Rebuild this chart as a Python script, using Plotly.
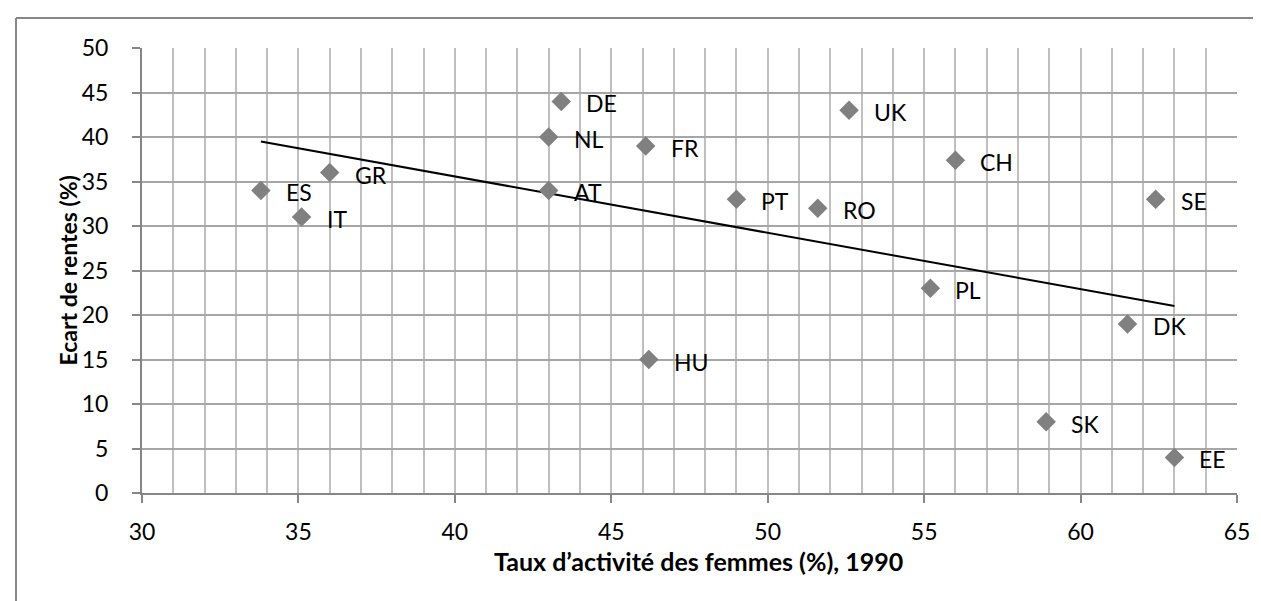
import numpy as np
import plotly.graph_objects as go

# ---- data ----
countries = ["ES", "IT", "GR", "DE", "NL", "AT", "FR", "HU", "PT", "RO",
             "UK", "PL", "CH", "SK", "DK", "SE", "EE"]
activity_rate_1990 = [33.8, 35.1, 36.0, 43.4, 43.0, 43.0, 46.1, 46.2, 49.0, 51.6,
                      52.6, 55.2, 56.0, 58.9, 61.5, 62.4, 63.0]
pension_gap = [34, 31, 36, 44, 40, 34, 39, 15, 33, 32,
               43, 23, 37.4, 8, 19, 33, 4]

x_title = "Taux d’activité des femmes (%), 1990"
y_title = "Ecart de rentes (%)"
x_ticks = [30, 35, 40, 45, 50, 55, 60, 65]
y_ticks = [0, 5, 10, 15, 20, 25, 30, 35, 40, 45, 50]

FONT = "Lato"
FS = 23

# linear trendline (least squares on the data)
slope, intercept = np.polyfit(activity_rate_1990, pension_gap, 1)
tx = [min(activity_rate_1990), max(activity_rate_1990)]
ty = [slope * v + intercept for v in tx]

fig = go.Figure()
fig.add_trace(go.Scatter(
    x=tx, y=ty, mode="lines",
    line=dict(color="black", width=2),
    hoverinfo="skip", showlegend=False,
))
fig.add_trace(go.Scatter(
    x=activity_rate_1990, y=pension_gap, mode="markers",
    marker=dict(symbol="diamond", size=15, color="#808080", line=dict(width=0)),
    showlegend=False,
))

for c, xv, yv in zip(countries, activity_rate_1990, pension_gap):
    fig.add_annotation(
        x=xv, y=yv, text=c, showarrow=False,
        xanchor="left", yanchor="middle", xshift=23, yshift=-2,
        font=dict(family=FONT, size=FS, color="#000000"),
    )

L, R, T, B = 134, 32, 40, 116
W, H = 1261, 601
pw, ph = W - L - R, H - T - B

def px_x(p):
    return (p - L) / pw

def px_y(p):
    return (H - B - p) / ph

# axis titles
fig.add_annotation(
    x=px_x(690), y=px_y(553), xref="paper", yref="paper", text=f"<b>{x_title}</b>",
    showarrow=False, xanchor="center", yanchor="middle",
    font=dict(family=FONT, size=25, color="#000000"),
)
fig.add_annotation(
    x=px_x(59), y=0.5, xref="paper", yref="paper", text=f"<b>{y_title}</b>",
    showarrow=False, xanchor="center", yanchor="middle", textangle=-90,
    font=dict(family=FONT, size=23, color="#000000"),
)

# outer chart border (top and left visible)
border = dict(color="#868686", width=2)
fig.add_shape(type="line", xref="paper", yref="paper",
              x0=px_x(8), y0=px_y(10), x1=px_x(W + 20), y1=px_y(10), line=border)
fig.add_shape(type="line", xref="paper", yref="paper",
              x0=px_x(8), y0=px_y(10), x1=px_x(8), y1=px_y(H + 20), line=border)

grid_v = "#bfbfbf"
grid_h = "#a6a6a6"
axis_c = "#868686"

fig.update_xaxes(
    range=[30, 65], tickmode="array", tickvals=x_ticks,
    ticktext=[str(v) for v in x_ticks],
    showgrid=True, gridcolor=grid_v, gridwidth=2,
    minor=dict(dtick=1, tick0=30, showgrid=True, gridcolor=grid_v, gridwidth=2),
    showline=True, linecolor=axis_c, linewidth=2,
    ticks="outside", ticklen=8, tickwidth=2, tickcolor=axis_c,
    ticklabelstandoff=9,
    tickfont=dict(family=FONT, size=FS, color="#000000"),
    zeroline=False, fixedrange=True,
)
fig.update_yaxes(
    range=[0, 50], tickmode="array", tickvals=y_ticks,
    ticktext=[str(v) for v in y_ticks],
    showgrid=True, gridcolor=grid_h, gridwidth=2,
    showline=True, linecolor=axis_c, linewidth=2,
    ticks="outside", ticklen=8, tickwidth=2, tickcolor=axis_c,
    ticklabelstandoff=19,
    tickfont=dict(family=FONT, size=FS, color="#000000"),
    zeroline=False, fixedrange=True,
)

fig.update_layout(
    width=W, height=H,
    margin=dict(l=L, r=R, t=T, b=B, pad=0),
    paper_bgcolor="white", plot_bgcolor="white",
    showlegend=False,
)

fig.write_html("out.html")
